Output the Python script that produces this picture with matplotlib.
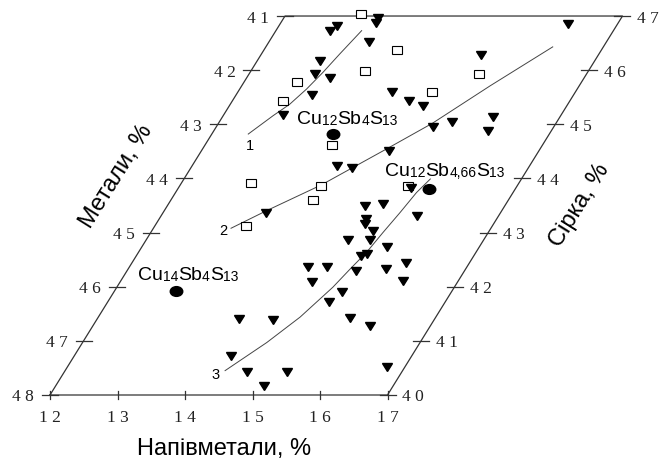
import matplotlib
matplotlib.use("Agg")
import matplotlib.pyplot as plt
from matplotlib.markers import MarkerStyle
from matplotlib.transforms import Affine2D

plt.rcParams['font.family'] = ['Liberation Sans', 'DejaVu Sans']

# composition points: semimetals %, metals %  (sulfur = 88 - metals on the right edge)
sq_semi = [13.11, 13.97, 13.69, 12.78, 15.41, 14.88, 12.75, 13.88, 13.03, 14.09, 14.10, 13.35, 15.38]
sq_metal = [40.96, 41.63, 42.02, 42.22, 42.07, 42.40, 42.57, 43.38, 44.08, 44.14, 44.40, 44.88, 44.14]

tri_semi = [13.40, 13.41, 12.80, 12.86, 13.48, 12.93, 12.98, 13.24, 13.13, 14.28, 12.88,
            16.27, 15.26, 14.62, 14.87, 15.21, 15.45, 16.01, 16.06, 14.78, 14.15, 14.39,
            13.53, 14.93, 15.18, 15.79, 15.07, 15.10, 15.28, 14.99, 15.32, 15.63, 15.33,
            15.40, 14.65, 14.93, 15.39, 15.82, 16.06, 14.84, 16.18, 15.38, 15.28, 15.74,
            16.11, 14.10, 14.61, 14.32, 14.71, 15.30, 16.73, 15.09, 15.45]
tri_metal = [41.04, 41.13, 41.28, 41.18, 41.48, 41.83, 42.07, 42.14, 42.46, 42.40, 42.83,
             41.15, 41.72, 42.57, 42.66, 43.05, 42.96, 42.87, 43.12, 43.49, 43.77, 43.81,
             44.64, 44.51, 44.47, 44.69, 44.75, 44.84, 44.97, 45.14, 45.14, 45.27, 45.43,
             45.40, 45.64, 45.64, 45.71, 45.67, 45.56, 45.91, 45.89, 46.10, 46.28, 46.58,
             46.73, 46.60, 46.61, 47.28, 47.58, 47.58, 47.48, 47.83, 44.18]

# ideal compositions (formula split into element / index pieces)
ideal_semi = [13.80, 15.72, 12.91]
ideal_metal = [43.18, 44.20, 46.08]
ideal_names = [['Cu', '12', 'Sb', '4', 'S', '13'],
               ['Cu', '12', 'Sb', '4,66', 'S', '13'],
               ['Cu', '14', 'Sb', '4', 'S', '13']]

# trend lines 1-3
line1_semi = [12.54, 12.74, 12.88, 12.99, 13.08, 13.16, 13.27]
line1_metal = [43.18, 42.84, 42.63, 42.35, 42.04, 41.70, 41.27]
line2_semi = [13.15, 13.51, 14.09, 14.74, 15.17, 15.68, 16.25]
line2_metal = [44.92, 44.60, 44.12, 43.44, 42.98, 42.29, 41.57]
line3_semi = [14.37, 14.73, 14.99, 15.20, 15.29, 15.38, 15.44, 15.51, 15.57, 15.65]
line3_metal = [47.55, 47.03, 46.56, 46.01, 45.67, 45.36, 45.00, 44.63, 44.26, 44.01]

semi_ticks = [12, 13, 14, 15, 16, 17]
metal_ticks = [41, 42, 43, 44, 45, 46, 47, 48]

# skewed frame: pixel size of one percent along each axis
PX_SEMI = 67.5
PX_METAL = 54.14
SHIFT = 33.57
BASE_X, BASE_Y = 50, 396

fig = plt.figure(figsize=(6.59, 4.64), dpi=100)
ax = fig.add_axes([0, 0, 1, 1])
ax.set_xlim(0, 659)
ax.set_ylim(464, 0)
ax.axis('off')

to_px = Affine2D.from_values(PX_SEMI, 0, -SHIFT, PX_METAL,
                             BASE_X - PX_SEMI * 12 + SHIFT * 48,
                             BASE_Y - PX_METAL * 48)
tern = to_px + ax.transData

frame_c = '#333333'
ax.plot([12, 17, 17, 12, 12], [48, 48, 41, 41, 48], color=frame_c, lw=0.9, transform=tern)

tick_font = dict(family='Liberation Serif', fontsize=12.5, color='#222222')
for m in metal_ticks:
    x, y = to_px.transform((12, m))
    ax.plot([x - 8, x + 8], [y, y], color=frame_c, lw=0.9)
    ax.text(x - 16, y + 5.5, f'{m // 10} {m % 10}', ha='right', va='baseline', **tick_font)
    x, y = to_px.transform((17, m))
    ax.plot([x - 8, x + 8], [y, y], color=frame_c, lw=0.9)
    s = 88 - m
    ax.text(x + 15, y + 5.5, f'{s // 10} {s % 10}', ha='left', va='baseline', **tick_font)
for s in semi_ticks:
    x, y = to_px.transform((s, 48))
    ax.plot([x, x], [y - 4, y + 4], color=frame_c, lw=0.9)
    ax.text(x, 422, f'{s // 10} {s % 10}', ha='center', va='baseline', **tick_font)

# trend lines
for xs, ys in [(line1_semi, line1_metal), (line2_semi, line2_metal), (line3_semi, line3_metal)]:
    ax.plot(xs, ys, color='#444444', lw=0.7, transform=tern)

tri = MarkerStyle('v', transform=Affine2D().scale(1, 0.72))
sq = MarkerStyle('s', transform=Affine2D().scale(1, 0.7))
ell = MarkerStyle('o', transform=Affine2D().scale(1, 0.78))

ax.plot(sq_semi, sq_metal, ls='none', marker=sq, ms=7.6, mfc='white', mec='black',
        mew=0.8, transform=tern, zorder=3)
ax.plot(tri_semi, tri_metal, ls='none', marker=tri, ms=7.7, color='black',
        transform=tern, zorder=4)
ax.plot(ideal_semi, ideal_metal, ls='none', marker=ell, ms=9, color='black',
        transform=tern, zorder=5)


def formula(x, y, parts):
    # indices drawn smaller but sitting on the baseline, as in the original
    t = ax.text(x, y, parts[0], fontsize=14, ha='left', va='baseline')
    for i, p in enumerate(parts[1:], 1):
        t = ax.annotate(p, xy=(1, 0), xycoords=t, fontsize=10 if i % 2 else 14,
                        ha='left', va='bottom')


formula(297, 124, ideal_names[0])
formula(385, 176, ideal_names[1])
formula(138, 280, ideal_names[2])

for txt, (x, y) in zip(['1', '2', '3'], [(250, 146), (223, 231), (216, 375)]):
    ax.text(x, y, txt, fontsize=10.5, ha='center', va='center')

ax.text(224, 449, 'Напівметали, %', fontsize=17, ha='center', va='center')
ax.text(116, 176, 'Метали, %', fontsize=17, ha='center', va='center', rotation=58)
ax.text(580, 205, 'Сірка, %', fontsize=17, ha='center', va='center', rotation=58)

fig.savefig('out.png', dpi=100, facecolor='white')
